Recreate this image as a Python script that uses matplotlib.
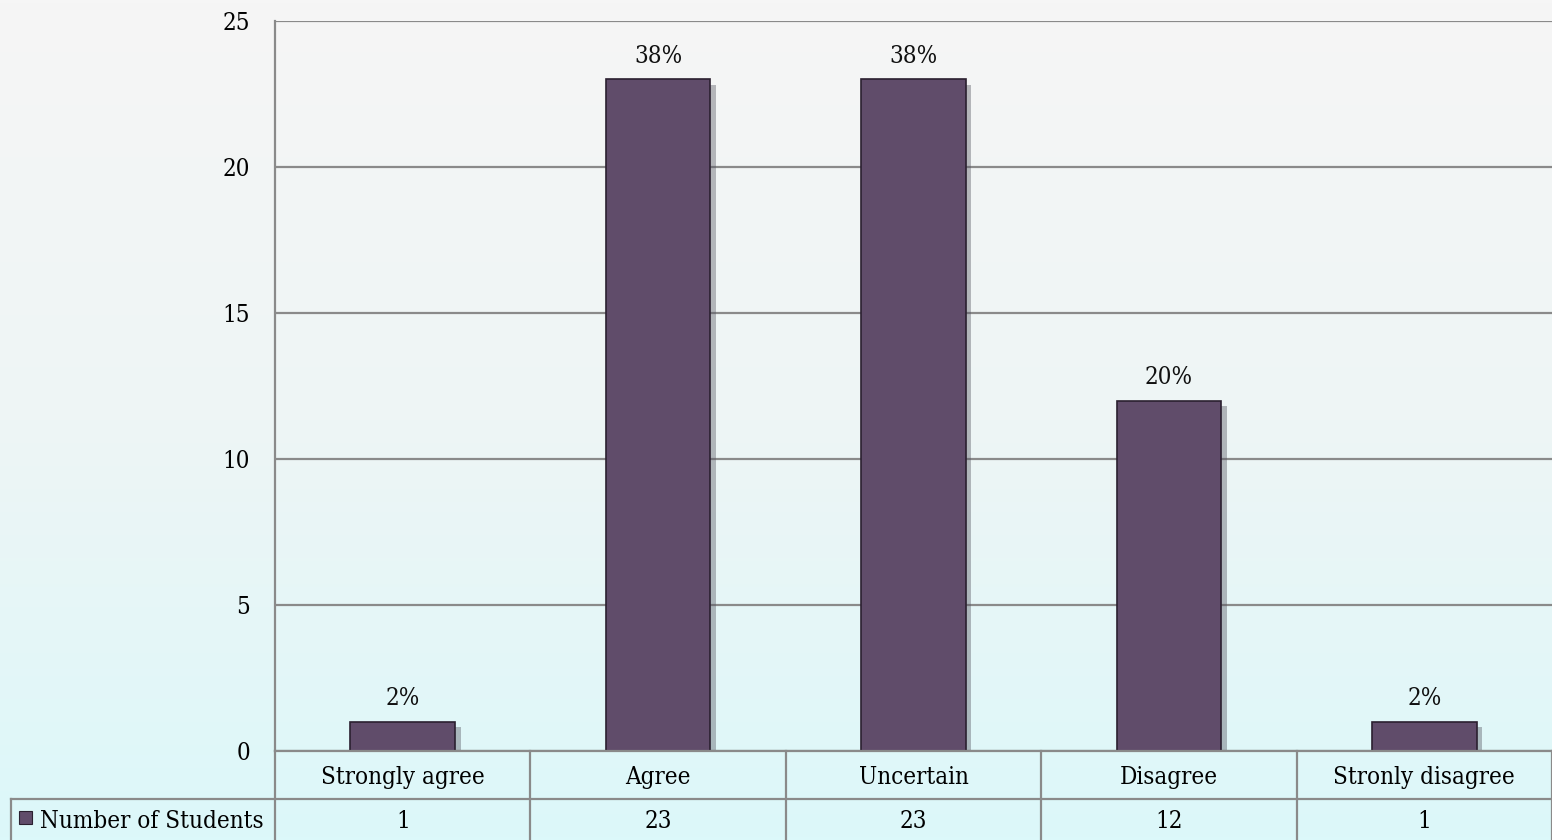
import numpy as np
import matplotlib
matplotlib.use('Agg')
import matplotlib.pyplot as plt
import matplotlib.patheffects as pe
from matplotlib.colors import LinearSegmentedColormap

# data
categories = ['Strongly agree', 'Agree', 'Uncertain', 'Disagree', 'Stronly disagree']
students = [1, 23, 23, 12, 1]
percent_labels = ['2%', '38%', '38%', '20%', '2%']
series_name = 'Number of Students'
y_ticks = [0, 5, 10, 15, 20, 25]

plt.rcParams['font.family'] = ['DejaVu Serif']
plt.rcParams['font.stretch'] = 'condensed'
FS = 17.3

W, H = 1552, 840
fig = plt.figure(figsize=(W / 100, H / 100), dpi=100)

# background gradient: light gray on top to light cyan at bottom
bg = fig.add_axes([0, 0, 1, 1], zorder=-10)
grad = np.linspace(0, 1, 256).reshape(-1, 1)
cmap = LinearSegmentedColormap.from_list('bg', ['#f6f6f6', '#eef5f5', '#dcf8fa'])
bg.imshow(grad, aspect='auto', cmap=cmap, extent=[0, 1, 0, 1], origin='upper')
bg.axis('off')

# plot area in pixels
left, right, top, bottom = 275, 1552, 21, 751
ax = fig.add_axes([left / W, 1 - bottom / H, (right - left) / W, (bottom - top) / H])
ax.patch.set_alpha(0)

x = np.arange(len(categories))
bars = ax.bar(x, students, width=0.41, color='#604c6a', edgecolor='#2b2030',
              linewidth=1.2, zorder=3)
for b in bars:
    b.set_path_effects([pe.SimplePatchShadow(offset=(4, -4), shadow_rgbFace='#555560', alpha=0.4),
                        pe.Normal()])

for xi, v, lab in zip(x, students, percent_labels):
    ax.text(xi, v + 0.4, lab, ha='center', va='bottom', fontsize=FS, color='#111111')

ax.set_xlim(-0.5, len(categories) - 0.5)
ax.set_ylim(0, 25)
ax.set_yticks(y_ticks)
ax.tick_params(axis='y', length=0, pad=18, labelsize=FS)
ax.set_xticks([])
ax.grid(axis='y', color='#8a8a8a', linewidth=1.6, zorder=0)
for s in ['top', 'right', 'bottom']:
    ax.spines[s].set_visible(False)
ax.spines['left'].set_color('#8a8a8a')
ax.spines['left'].set_linewidth(1.6)

# data table below the axis
lc = '#8a8a8a'
row1 = 799
def fy(py):
    return 1 - py / H
def fx(px):
    return px / W

cell_w = (right - left) / len(categories)
fig.add_artist(plt.Line2D([fx(left), fx(right)], [fy(bottom), fy(bottom)], color=lc, lw=1.6))
fig.add_artist(plt.Line2D([fx(11), fx(right)], [fy(row1), fy(row1)], color=lc, lw=1.6))
fig.add_artist(plt.Line2D([fx(11), fx(11)], [fy(row1), 0], color=lc, lw=1.6))
for i in range(len(categories) + 1):
    px = left + i * cell_w
    fig.add_artist(plt.Line2D([fx(px), fx(px)], [fy(bottom), 0], color=lc, lw=1.6))

for i, (cat, v) in enumerate(zip(categories, students)):
    cx = left + (i + 0.5) * cell_w
    fig.text(fx(cx), fy(784), cat, ha='center', va='baseline', fontsize=FS)
    fig.text(fx(cx), fy(828), str(v), ha='center', va='baseline', fontsize=FS)

# legend key + series name
fig.add_artist(plt.Rectangle((fx(19), fy(824)), 13 / W, 13 / H, facecolor='#604c6a',
                             edgecolor='#2b2030', lw=0.8))
fig.text(fx(40), fy(828), series_name, ha='left', va='baseline', fontsize=FS)

fig.savefig('out.png', dpi=100)
